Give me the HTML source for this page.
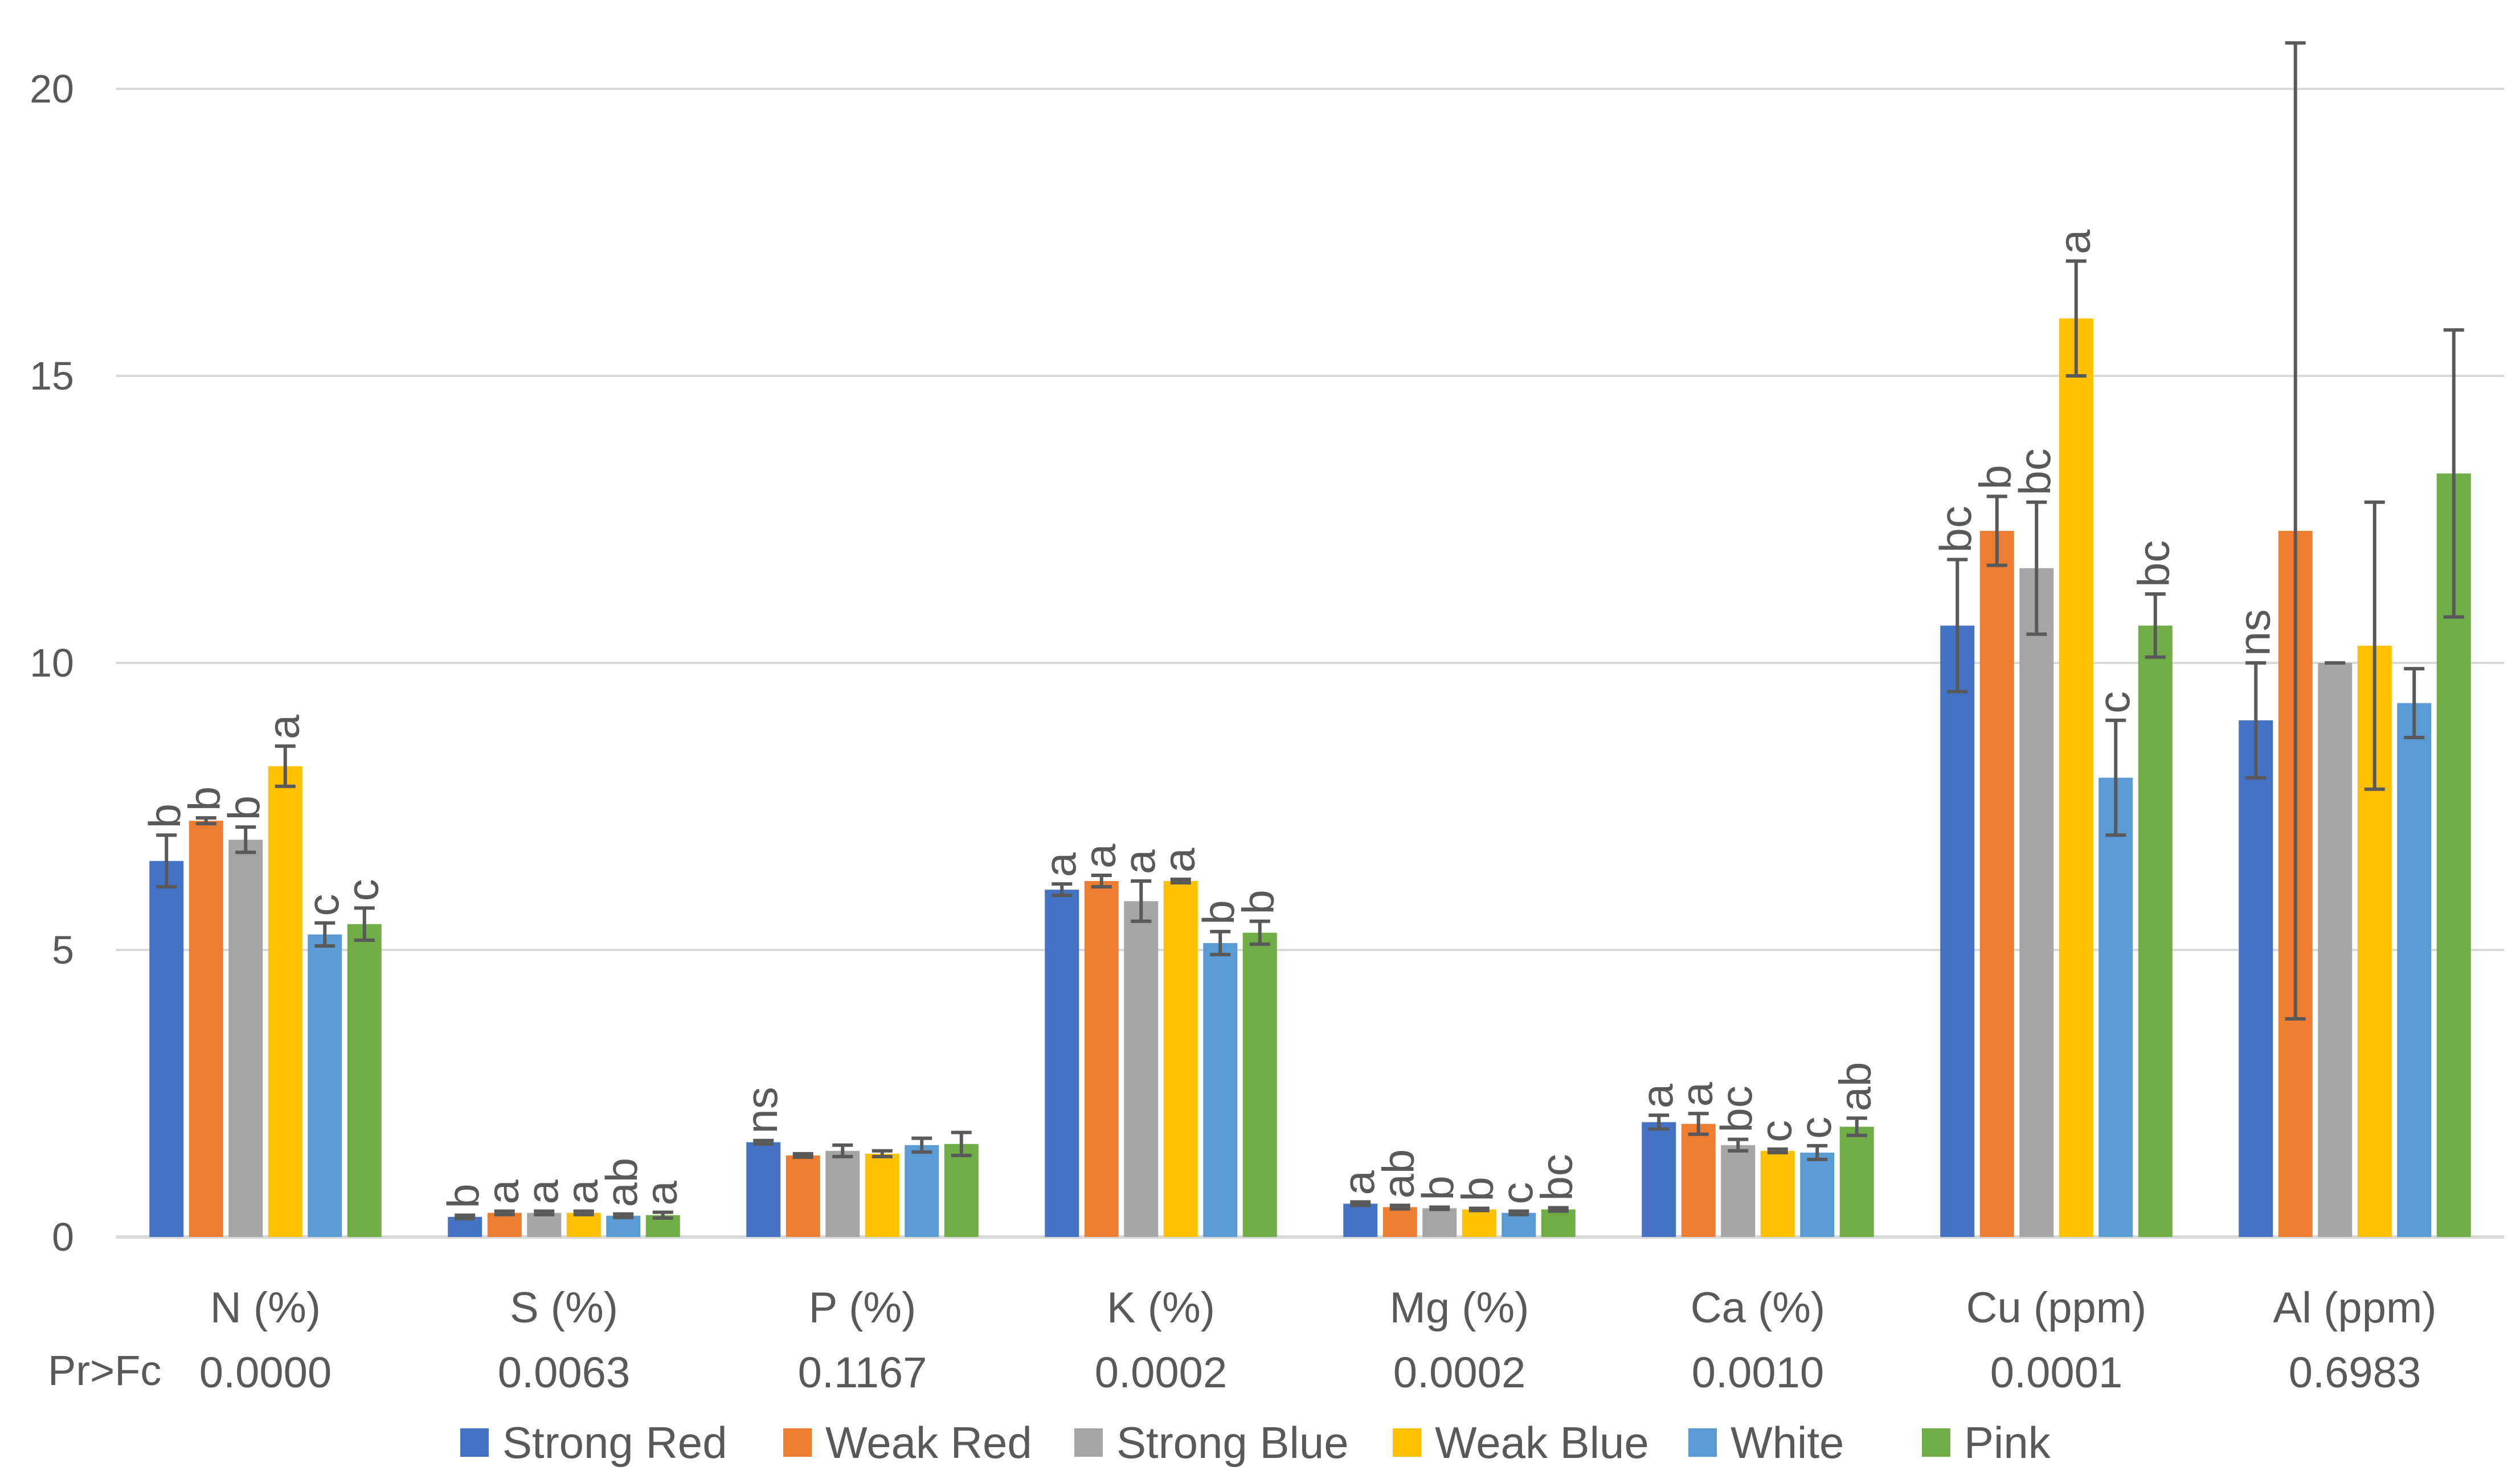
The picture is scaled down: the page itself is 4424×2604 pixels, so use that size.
<!DOCTYPE html>
<html><head><meta charset="utf-8"><style>
html,body{margin:0;padding:0;background:#fff;}
svg{display:block;font-family:"Liberation Sans","DejaVu Sans",sans-serif;}
</style></head><body>
<svg id="chart" width="4424" height="2604" viewBox="0 0 4424 2604" xmlns="http://www.w3.org/2000/svg"></svg>
<script>
const categories = ["N (%)","S (%)","P (%)","K (%)","Mg (%)","Ca (%)","Cu (ppm)","Al (ppm)"];
const pvalues = ["0.0000","0.0063","0.1167","0.0002","0.0002","0.0010","0.0001","0.6983"];
const seriesNames = ["Strong Red","Weak Red","Strong Blue","Weak Blue","White","Pink"];
const strongRed = [6.55,0.35,1.65,6.05,0.58,2.0,10.65,9.0];
const weakRed = [7.25,0.42,1.42,6.2,0.52,1.97,12.3,12.3];
const strongBlue = [6.92,0.42,1.5,5.85,0.5,1.6,11.65,10.0];
const weakBlue = [8.2,0.42,1.45,6.2,0.48,1.5,16.0,10.3];
const white = [5.27,0.37,1.6,5.12,0.42,1.47,8.0,9.3];
const pink = [5.45,0.38,1.62,5.3,0.48,1.92,10.65,13.3];
const errStrongRed = [0.45,0.03,0.03,0.1,0.03,0.12,1.15,1.0];
const errWeakRed = [0.05,0.03,0.03,0.1,0.03,0.18,0.6,8.5];
const errStrongBlue = [0.22,0.03,0.1,0.35,0.02,0.1,1.15,0.0];
const errWeakBlue = [0.35,0.03,0.05,0.03,0.02,0.03,1.0,2.5];
const errWhite = [0.2,0.03,0.12,0.2,0.03,0.12,1.0,0.6];
const errPink = [0.28,0.05,0.2,0.2,0.03,0.15,0.55,2.5];
const lettersStrongRed = ["b","b","ns","a","a","a","bc","ns"];
const lettersWeakRed = ["b","a","","a","ab","a","b",""];
const lettersStrongBlue = ["b","a","","a","b","bc","bc",""];
const lettersWeakBlue = ["a","a","","a","b","c","a",""];
const lettersWhite = ["c","ab","","b","c","c","c",""];
const lettersPink = ["c","a","","b","bc","ab","bc",""];
const yTicks = [0,5,10,15,20];

const series = [strongRed,weakRed,strongBlue,weakBlue,white,pink];
const errs = [errStrongRed,errWeakRed,errStrongBlue,errWeakBlue,errWhite,errPink];
const letters = [lettersStrongRed,lettersWeakRed,lettersStrongBlue,lettersWeakBlue,lettersWhite,lettersPink];
const colors = ["#4472c4","#ed7d31","#a5a5a5","#ffc000","#5b9bd5","#70ad47"];

const NS="http://www.w3.org/2000/svg";
const svg=document.getElementById('chart');
const X0=204, X1=4396, Y0=2172, Y20=156;
const y=v=>Y0-(v/20)*(Y0-Y20);
const catW=(X1-X0)/categories.length;
const step=69.5, bw=60;
const x=(c,s)=>X0+catW*c+catW/2+(s-2.5)*step;
function el(t,a,txt){const e=document.createElementNS(NS,t);for(const k in a)e.setAttribute(k,a[k]);if(txt!==undefined)e.textContent=txt;svg.appendChild(e);return e;}

yTicks.forEach(t=>{
  const g=el('line',{x1:X0,x2:X1,y1:y(t),y2:y(t),stroke:'#d9d9d9','stroke-width':t===0?6:4});
  
  
  const l=el('text',{x:130,y:y(t)+24,'text-anchor':'end','font-size':70,fill:'#595959'},String(t));
  
  
});

categories.forEach((c,ci)=>{
  series.forEach((s,si)=>{
    const cx=x(ci,si), v=s[ci], e=errs[si][ci];
    const r=el('rect',{x:cx-bw/2,y:y(v),width:bw,height:Y0-y(v),fill:colors[si]});
    
    
    const top=y(v+e), bot=y(v-e);
    const eb=el('path',{d:`M${cx},${top}V${bot}M${cx-18},${top}H${cx+18}M${cx-18},${bot}H${cx+18}`,stroke:'#595959','stroke-width':6,fill:'none'});
    
    
    const lt=letters[si][ci];
    if(lt){
      const ty=top-12, tx=cx+24;
      const t=el('text',{x:tx,y:ty,'font-size':78,fill:'#595959',transform:`rotate(-90 ${tx} ${ty})`},lt);
      
      
    }
  });
  const cxm=X0+catW*ci+catW/2;
  const cl=el('text',{x:cxm,y:2322,'text-anchor':'middle','font-size':76,fill:'#595959'},c);
  
  
  const pl=el('text',{x:cxm,y:2436,'text-anchor':'middle','font-size':76,fill:'#595959'},pvalues[ci]);
  
  
});
const pr=el('text',{x:84,y:2432,'font-size':74,fill:'#595959'},'Pr>Fc');



const legX=[808,1375,1886,2445,2964,3374];
seriesNames.forEach((n,i)=>{
  const r=el('rect',{x:legX[i],y:2508,width:50,height:50,fill:colors[i]});
  
  
  const t=el('text',{x:legX[i]+74,y:2560,'font-size':78,fill:'#595959'},n);
  
  
});
</script>
</body></html>
